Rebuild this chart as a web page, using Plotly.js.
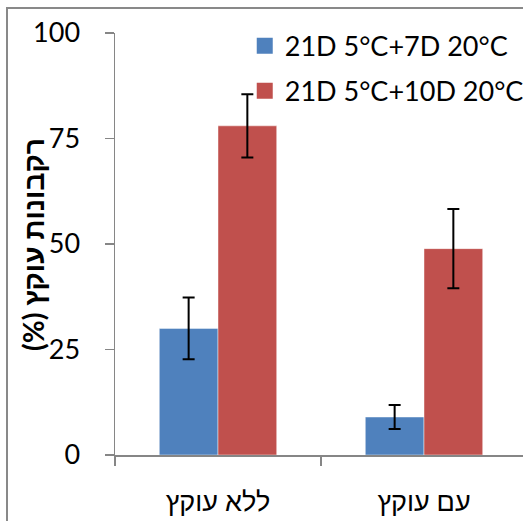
<!DOCTYPE html>
<html>
<head>
<meta charset="utf-8">
<script src="https://cdn.plot.ly/plotly-3.0.1.min.js"></script>
<style>
  html, body { margin: 0; padding: 0; background: #fff; overflow: hidden; }
  #chart { width: 523px; height: 521px; }
</style>
</head>
<body>
<div id="chart"></div>
<script>
// ---- data ----
const categories = ["ללא עוקץ", "עם עוקץ"];
const seriesNames = ["21D 5°C+7D 20°C", "21D 5°C+10D 20°C"];
const values7D = [30, 9];
const errors7D = [7.3, 2.85];
const values10D = [78, 48.9];
const errors10D = [7.5, 9.4];
const yTicks = [0, 25, 50, 75, 100];
const yTitle = "רקבונות עוקץ (%)";

const colors = ["#4F81BD", "#C0504D"];
const FONT = "Lato, 'Liberation Sans', 'DejaVu Sans', sans-serif";

function barTrace(name, vals, errs, color) {
  return {
    type: "bar",
    x: categories,
    y: vals,
    name: name,
    showlegend: false,
    marker: { color: color, line: { color: "rgba(255,255,255,0.45)", width: 1 } },
    error_y: { type: "data", array: errs, visible: true, color: "#000", thickness: 2, width: 6 },
    hoverinfo: "x+y"
  };
}
function legendTrace(name, color, grp) {
  return {
    type: "scatter", mode: "markers",
    x: [null], y: [null],
    name: name, legendgroup: grp,
    marker: { symbol: "square", size: 16, color: color },
    hoverinfo: "skip"
  };
}

const data = [
  barTrace(seriesNames[0], values7D, errors7D, colors[0]),
  barTrace(seriesNames[1], values10D, errors10D, colors[1]),
  legendTrace(seriesNames[0], colors[0], "a"),
  legendTrace(seriesNames[1], colors[1], "b")
];

const axisColor = "#868686";
const layout = {
  width: 523, height: 521,
  margin: { l: 115, r: 0, t: 33, b: 66, pad: 0, autoexpand: false },
  paper_bgcolor: "#fff", plot_bgcolor: "#fff",
  font: { family: FONT, size: 27, color: "#000" },
  barmode: "group",
  bargap: 0.43,
  bargroupgap: 0,
  xaxis: {
    type: "category",
    range: [-0.5, 1.4806],
    tickson: "boundaries",
    ticks: "outside", ticklen: 9, tickcolor: axisColor, tickwidth: 1.5,
    showline: true, linecolor: axisColor, linewidth: 1.5,
    showgrid: false, zeroline: false,
    ticklabelstandoff: 22,
    automargin: false,
    tickfont: { family: FONT, size: 27, color: "#000" }
  },
  yaxis: {
    range: [0, 100],
    tickvals: yTicks,
    ticks: "outside", ticklen: 9, tickcolor: axisColor, tickwidth: 1.5,
    showline: true, linecolor: axisColor, linewidth: 1.5,
    showgrid: false, zeroline: false,
    ticklabelstandoff: 19,
    automargin: false,
    tickfont: { family: FONT, size: 27, color: "#000" }
  },
  legend: {
    x: 0.318, xanchor: "left",
    y: 1.027, yanchor: "top",
    bgcolor: "rgba(0,0,0,0)",
    traceorder: "grouped",
    tracegroupgap: 7,
    font: { family: FONT, size: 27, color: "#000" }
  },
  annotations: [{
    // y-axis title
    text: "<b>" + yTitle + "\u200F</b>",
    xref: "paper", yref: "paper",
    x: -0.201, y: 0.5,
    xanchor: "center", yanchor: "middle",
    textangle: -90,
    showarrow: false,
    font: { family: FONT, size: 28, color: "#000" }
  }],
  shapes: [{
    type: "rect", xref: "paper", yref: "paper",
    x0: -0.2647, x1: 1.3, y0: -0.4, y1: 1.0592,
    line: { color: "#898989", width: 2 }, layer: "below"
  }]
};

Plotly.newPlot("chart", data, layout, { staticPlot: true, displayModeBar: false });
</script>
</body>
</html>
